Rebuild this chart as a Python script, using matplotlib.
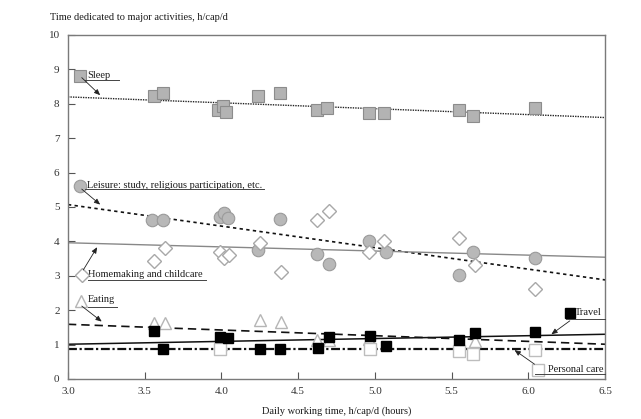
import matplotlib
matplotlib.use('Agg')
import matplotlib.pyplot as plt
import numpy as np

plt.rcParams['font.family'] = ['Liberation Serif', 'DejaVu Serif']

# ======
# data
# ======
sleep_x = [3.56, 3.62, 3.98, 4.01, 4.03, 4.24, 4.38, 4.62, 4.69, 4.96, 5.06, 5.55, 5.64, 6.04]
sleep_y = [8.22, 8.32, 7.81, 7.93, 7.76, 8.23, 8.30, 7.81, 7.89, 7.74, 7.72, 7.82, 7.65, 7.88]

leisure_x = [3.55, 3.62, 3.99, 4.02, 4.04, 4.24, 4.38, 4.62, 4.70, 4.96, 5.07, 5.55, 5.64, 6.04]
leisure_y = [4.63, 4.63, 4.72, 4.82, 4.69, 3.76, 4.64, 3.63, 3.34, 4.00, 3.69, 3.03, 3.69, 3.52]

home_x = [3.56, 3.63, 3.99, 4.02, 4.05, 4.25, 4.39, 4.62, 4.70, 4.96, 5.06, 5.55, 5.65, 6.04]
home_y = [3.43, 3.82, 3.69, 3.52, 3.59, 3.96, 3.10, 4.63, 4.87, 3.68, 4.00, 4.11, 3.32, 2.62]

eating_x = [3.56, 3.63, 4.00, 4.25, 4.39, 4.62, 4.70, 4.96, 5.65]
eating_y = [1.64, 1.64, 1.02, 1.71, 1.67, 1.12, 1.12, 1.15, 1.10]

travel_x = [3.56, 3.62, 3.99, 4.04, 4.25, 4.38, 4.63, 4.70, 4.97, 5.07, 5.55, 5.65, 6.04]
travel_y = [1.40, 0.88, 1.22, 1.20, 0.88, 0.88, 0.91, 1.22, 1.25, 0.96, 1.13, 1.35, 1.38]

care_x = [3.99, 4.97, 5.55, 5.64, 6.04]
care_y = [0.88, 0.86, 0.82, 0.74, 0.85]

# trend lines, value at x=3.0 and x=6.5
fit_x = [3.0, 6.5]
sleep_fit = [8.20, 7.60]
leisure_fit = [5.07, 2.88]
home_fit = [3.96, 3.54]
eating_fit = [1.59, 1.01]
travel_fit = [1.01, 1.30]
care_fit = [0.87, 0.87]

x_ticks = [3.0, 3.5, 4.0, 4.5, 5.0, 5.5, 6.0, 6.5]
y_ticks = list(range(0, 11))

# ======
# figure
# ======
fig = plt.figure(figsize=(6.41, 4.19), dpi=100)
ax = fig.add_axes([0.106, 0.0955, 0.838, 0.821])

# trend lines
ax.plot(fit_x, sleep_fit, color='#222222', lw=1.0, ls=(0, (1, 0.8)), zorder=2)
ax.plot(fit_x, leisure_fit, color='#111111', lw=1.2, ls=(0, (2, 2)), zorder=2)
ax.plot(fit_x, home_fit, color='#888888', lw=1.0, ls='-', zorder=2)
ax.plot(fit_x, eating_fit, color='#111111', lw=1.2, ls=(0, (5, 3)), zorder=2)
ax.plot(fit_x, travel_fit, color='#111111', lw=1.1, ls='-', zorder=2)
ax.plot(fit_x, care_fit, color='#111111', lw=1.6, ls=(0, (4, 1.2, 1, 1.2)), zorder=2)

# points
ax.plot(sleep_x, sleep_y, 's', ms=8, mfc='#b3b3b3', mec='#8c8c8c', mew=0.8, zorder=3)
ax.plot(leisure_x, leisure_y, 'o', ms=9, mfc='#b8b8b8', mec='#9a9a9a', mew=0.8, zorder=3)
ax.plot(home_x, home_y, 'D', ms=7.5, mfc='white', mec='#a8a8a8', mew=1.0, zorder=3)
ax.plot(eating_x, eating_y, '^', ms=9, mfc='white', mec='#b5b5b5', mew=1.0, zorder=3)
ax.plot(care_x, care_y, 's', ms=8, mfc='white', mec='#bdbdbd', mew=1.0, zorder=3)
ax.plot(travel_x, travel_y, 's', ms=7.5, mfc='black', mec='black', zorder=4)

# ======
# labels with markers, underlines and arrows
# ======
fs = 7.5
arrow = dict(arrowstyle='-|>,head_length=0.35,head_width=0.15', color='#222222', lw=0.6,
             shrinkA=0, shrinkB=0)

def label(mx, my, marker, mkw, tx, ty, text, ul, arr_from, arr_to, ha='left'):
    ax.plot([mx], [my], marker, clip_on=False, zorder=5, **mkw)
    ax.text(tx, ty, text, fontsize=fs, ha=ha, va='center', color='#1a1a1a')
    ax.plot(ul[0], ul[1], color='#444444', lw=0.7, clip_on=False, zorder=5)
    ax.annotate('', xy=arr_to, xytext=arr_from, arrowprops=arrow, zorder=5)

label(3.08, 8.80, 's', dict(ms=8, mfc='#b3b3b3', mec='#8c8c8c', mew=0.8),
      3.125, 8.82, 'Sleep', ([3.11, 3.33], [8.69, 8.69]), (3.09, 8.76), (3.21, 8.25))
label(3.08, 5.60, 'o', dict(ms=9, mfc='#b8b8b8', mec='#9a9a9a', mew=0.8),
      3.125, 5.62, 'Leisure: study, religious participation, etc.',
      ([3.11, 4.28], [5.51, 5.51]), (3.09, 5.52), (3.21, 5.07))
label(3.09, 3.03, 'D', dict(ms=7.5, mfc='white', mec='#a8a8a8', mew=1.0),
      3.13, 3.05, 'Homemaking and childcare', ([3.13, 3.90], [2.88, 2.88]),
      (3.10, 3.17), (3.19, 3.83))
label(3.085, 2.27, '^', dict(ms=9, mfc='white', mec='#b5b5b5', mew=1.0),
      3.13, 2.30, 'Eating', ([3.13, 3.32], [2.10, 2.10]), (3.09, 2.12), (3.22, 1.67))
label(6.27, 1.92, 's', dict(ms=7.5, mfc='black', mec='black'),
      6.30, 1.93, 'Travel', ([6.245, 6.5], [1.73, 1.73]), (6.27, 1.69), (6.15, 1.30))
label(6.06, 0.25, 's', dict(ms=8, mfc='white', mec='#bdbdbd', mew=1.0),
      6.125, 0.27, 'Personal care', ([6.04, 6.5], [0.14, 0.14]), (6.04, 0.43), (5.91, 0.84))

# ======
# axes styling
# ======
ax.set_xlim(3.0, 6.5)
ax.set_ylim(0, 10)
ax.set_xticks(x_ticks)
ax.set_xticklabels(['{:.1f}'.format(v) for v in x_ticks])
ax.set_yticks(y_ticks)
ax.tick_params(direction='in', length=5, width=0.8, color='#555555', labelsize=8,
               labelcolor='#333333', pad=6)
for sp in ax.spines.values():
    sp.set_color('#7a7a7a')
    sp.set_linewidth(1.0)

fig.text(50 / 641, 1 - 18 / 419, 'Time dedicated to major activities, h/cap/d',
         fontsize=fs, color='#1a1a1a', ha='left', va='center')
fig.text(337 / 641, 1 - 411 / 419, 'Daily working time, h/cap/d (hours)',
         fontsize=fs, color='#1a1a1a', ha='center', va='center')

fig.savefig('out.png', dpi=100)
